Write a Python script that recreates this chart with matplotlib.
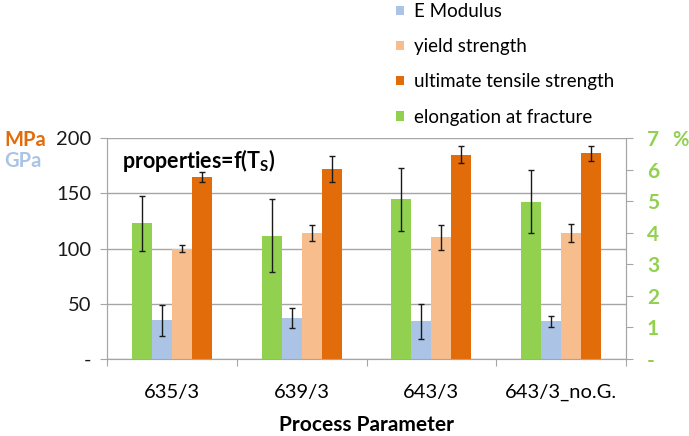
import matplotlib
matplotlib.use('Agg')
import matplotlib.pyplot as plt
import numpy as np

plt.rcParams['font.family'] = ['Lato', 'DejaVu Sans']

# data
categories = ['635/3', '639/3', '643/3', '643/3_no.G.']
e_modulus = [35, 37, 34, 34]          # GPa (left axis)
e_modulus_err = [14, 9, 16, 5]
yield_strength = [100, 114, 110, 114]  # MPa
yield_err = [3, 7, 11, 8.5]
uts = [165, 172, 185, 186]            # MPa
uts_err = [4.5, 11.5, 7.5, 7]
elongation = [4.3, 3.9, 5.06, 4.98]  # % (right axis)
elongation_err = [0.87, 1.16, 1.0, 1.0]

c_blue = '#abc4e5'
c_light = '#f7bd8c'
c_dark = '#e36c0a'
c_green = '#92d050'
c_grid = '#a6a6a6'

fig = plt.figure(figsize=(6.89, 4.36), dpi=100)
ax = fig.add_axes([107/689, 1-359/436, (626-107)/689, (359-138)/436])
ax2 = ax.twinx()

x = np.arange(len(categories))
w = 0.154
ek = dict(ecolor='#1a1a1a', elinewidth=1.0, capsize=2.2, capthick=1.0)

b1 = ax.bar(x - 0.5*w, e_modulus, w, yerr=e_modulus_err, color=c_blue, error_kw=ek, zorder=3, label='E Modulus')
b2 = ax.bar(x + 0.5*w, yield_strength, w, yerr=yield_err, color=c_light, error_kw=ek, zorder=3, label='yield strength')
b3 = ax.bar(x + 1.5*w, uts, w, yerr=uts_err, color=c_dark, error_kw=ek, zorder=3, label='ultimate tensile strength')
b4 = ax2.bar(x - 1.5*w, elongation, w, yerr=elongation_err, color=c_green, error_kw=ek, zorder=3, label='elongation at fracture')

ax.set_xlim(-0.5, len(categories) - 0.5)
ax.set_ylim(0, 200)
ax2.set_ylim(0, 7)

ax.set_yticks([0, 50, 100, 150, 200])
ax.set_yticklabels(['-', '50', '100', '150', '200'], fontsize=14.5, color='#1a1a1a')
ax2.set_yticks(range(8))
ax2.set_yticklabels(['-'] + [str(i) for i in range(1, 8)], fontsize=15, color=c_green, fontweight='bold')

ax.yaxis.grid(True, color=c_grid, linewidth=1.0, zorder=0)
ax.set_axisbelow(True)

ax.set_xticks(np.arange(-0.5, len(categories)), minor=False)
ax.set_xticklabels([])
ax.set_xticks(x, minor=True)
ax.set_xticklabels(categories, minor=True, fontsize=14.5)
ax.tick_params(axis='x', which='minor', length=0, pad=18)
ax.tick_params(axis='x', which='major', length=5, color=c_grid)
ax.tick_params(axis='y', length=5, color=c_grid, pad=6)
ax2.tick_params(axis='y', length=5, color=c_grid, pad=10)

for a in (ax, ax2):
    a.spines['top'].set_visible(False)
    for s in ('left', 'right', 'bottom'):
        a.spines[s].set_color(c_grid)

ax.set_xlabel('Process Parameter', fontsize=15, fontweight='bold', labelpad=10)

ax.text(0.028, 0.9, r'properties=f(T$_\mathregular{S}$)', transform=ax.transAxes,
        fontsize=15.5, fontweight='bold', va='center', ha='left')
fig.text(4/689, 1-140/436, 'MPa', color=c_dark, fontsize=14.5, fontweight='bold', va='center')
fig.text(4/689, 1-161/436, 'GPa', color=c_blue, fontsize=14.5, fontweight='bold', va='center')
fig.text(672/689, 1-140/436, '%', color=c_green, fontsize=14.5, fontweight='bold', va='center')

fig.legend(handles=[b1, b2, b3, b4], loc='upper left', bbox_to_anchor=(396/689, 1-3/436),
           frameon=False, fontsize=13.5, handlelength=0.4, handleheight=0.4,
           handletextpad=0.55, labelspacing=0.97, borderpad=0, borderaxespad=0)

fig.savefig('out.png', dpi=100)
